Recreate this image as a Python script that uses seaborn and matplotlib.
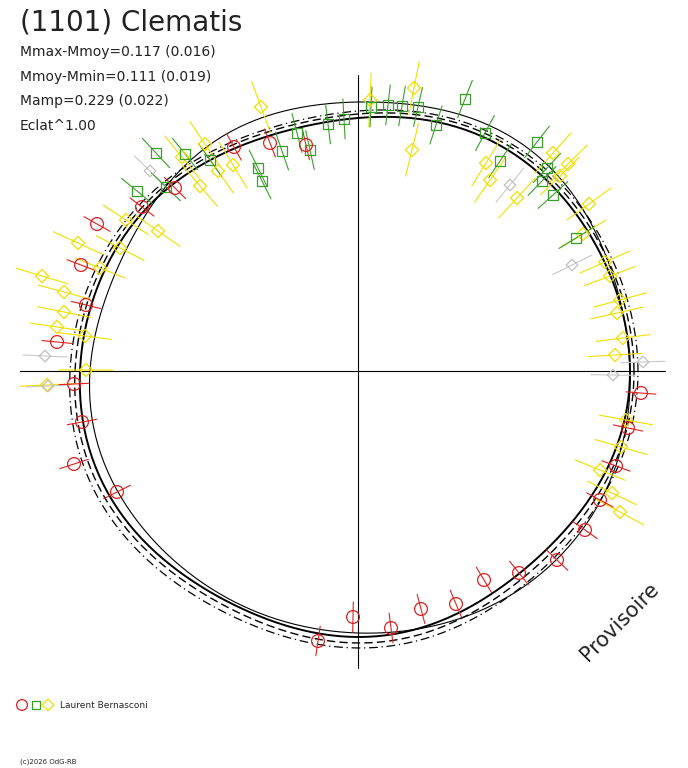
import numpy as np
import matplotlib
matplotlib.use("Agg")
import matplotlib.pyplot as plt
import seaborn as sns

# observed points, offsets from the plot centre (x right, y up)
red_x = [-124, -88, -52, -183, -216, -261, -277, -272, -301, -284, -276, -284, -241,
         -5, 33, -40, 63, 98, 126, 161, 199, 227, 242, 258, 270, 283]
red_y = [224, 228, 226, 183, 164, 147, 106, 66, 29, -13, -51, -93, -121,
         -246, -257, -270, -238, -233, -209, -202, -189, -159, -129, -95, -57, -22]
green_x = [-202, -173, -148, -100, -96, -76, -61, -48, -30, -14, 13, 30, 44, 60, 78, 107,
           127, 142, 179, 184, 189, 195, 218, -221, -192]
green_y = [218, 217, 211, 203, 190, 220, 238, 221, 247, 252, 264, 266, 265, 264, 246, 272,
           238, 210, 229, 190, 203, 176, 133, 180, 184]
yellow_x = [-97, -153, -158, -176, -125, -232, -238, -294, -294, -301, -273, -316, -311,
            -272, 56, 12, 54, 132, 128, 159, 195, 202, 231, 225, 247, 252, 262, 259, 265,
            257, 263, 262, 254, 242, 268, -258, -280, -140, -200, 210]
yellow_y = [264, 227, 185, 214, 206, 151, 123, 79, 59, 44, 35, 95, -14, 1, 283, 271,
            221, 191, 208, 173, 218, 195, 167, 137, 109, 95, 71, 58, 33, 16, -76, -141,
            -122, -99, -49, 103, 128, 200, 140, 207]
grey_x = [-313, -310, 255, 285, 214, 152, -208]
grey_y = [15, -15, -4, 9, 106, 186, 200]

# model curves: radius read every 30 degrees (from +x, counter-clockwise)
angles = np.arange(0, 360, 30)
r_thin = [272, 275, 279, 269, 271, 262, 268, 268, 262, 262, 270, 275]
r_thick = [272, 269, 266, 253, 255, 270, 278, 277, 265, 266, 260, 264]
r_dash = [276, 273, 270, 257, 259, 274, 283, 282, 270, 272, 266, 269]
r_dashdot = [280, 277, 273, 260, 262, 278, 288, 288, 276, 277, 272, 274]


def smooth_curve(r):
    # trigonometric resampling of the read radii to draw a closed curve
    coef = np.fft.rfft(r)
    n = len(r)
    t = np.linspace(0, 2 * np.pi, 361)
    rr = np.full_like(t, coef[0].real / n)
    for k in range(1, len(coef)):
        w = 1 if (n % 2 == 0 and k == n // 2) else 2
        rr += w * (coef[k].real * np.cos(k * t) - coef[k].imag * np.sin(k * t)) / n
    return rr * np.cos(t), rr * np.sin(t)


sns.set_style("white")
fig = plt.figure(figsize=(6.88, 7.68), dpi=100)
ax = fig.add_axes([0, 0, 1, 1])
ax.set_xlim(-358, 330)
ax.set_ylim(-397, 371)
ax.set_aspect("equal")
ax.axis("off")

ax.plot([0, 0], [296, -297], color="black", lw=0.8)
ax.plot([-338, 307], [0, 0], color="black", lw=0.8)

for r, ls, lw in [(r_thin, "-", 0.8), (r_thick, "-", 1.4), (r_dash, (0, (6, 3)), 1.0),
                  (r_dashdot, (0, (7, 3, 1, 3)), 0.9)]:
    cx, cy = smooth_curve(r)
    ax.plot(cx, cy, color="black", ls=ls, lw=lw)


def error_bars(xs, ys, half, col):
    for x, y in zip(xs, ys):
        d = np.hypot(x, y)
        ux, uy = x / d, y / d
        ax.plot([x - half * ux, x + half * ux], [y - half * uy, y + half * uy],
                color=col, lw=0.8, zorder=2)


error_bars(yellow_x, yellow_y, 27, "#f0e000")
error_bars(grey_x, grey_y, 22, "#c8c8c8")
error_bars(green_x, green_y, 20, "#3aa02a")
error_bars(red_x, red_y, 15, "#e02020")

sns.scatterplot(x=yellow_x, y=yellow_y, marker="D", s=45, facecolor="none",
                edgecolor="#f0e000", linewidth=0.9, ax=ax, zorder=3)
sns.scatterplot(x=grey_x, y=grey_y, marker="D", s=35, facecolor="none",
                edgecolor="#c0c0c0", linewidth=0.9, ax=ax, zorder=3)
sns.scatterplot(x=green_x, y=green_y, marker="s", s=45, facecolor="none",
                edgecolor="#3aa02a", linewidth=0.9, ax=ax, zorder=3)
sns.scatterplot(x=red_x, y=red_y, marker="o", s=85, facecolor="none",
                edgecolor="#e02020", linewidth=0.9, ax=ax, zorder=4)

fig.text(20 / 688, 1 - 22 / 768, "(1101) Clematis", fontsize=20, va="center", color="#222222")
stats = ["Mmax-Mmoy=0.117 (0.016)", "Mmoy-Mmin=0.111 (0.019)", "Mamp=0.229 (0.022)", "Eclat^1.00"]
for i, s in enumerate(stats):
    fig.text(20 / 688, 1 - (52 + 24.5 * i) / 768, s, fontsize=10, va="center", color="#222222")

fig.text(620 / 688, 1 - 622 / 768, "Provisoire", fontsize=15, rotation=45,
         ha="center", va="center", color="#222222")

ax.scatter([-336], [-334], marker="o", s=60, facecolor="none", edgecolor="#e02020", lw=0.9)
ax.scatter([-322], [-334], marker="s", s=35, facecolor="none", edgecolor="#3aa02a", lw=0.9)
ax.scatter([-310], [-334], marker="D", s=35, facecolor="none", edgecolor="#f0e000", lw=0.9)
fig.text(60 / 688, 1 - 705 / 768, "Laurent Bernasconi", fontsize=6.5, va="center")
fig.text(20 / 688, 1 - 762 / 768, "(c)2026 OdG-RB", fontsize=5, va="center")

fig.savefig("out.png", dpi=100)
